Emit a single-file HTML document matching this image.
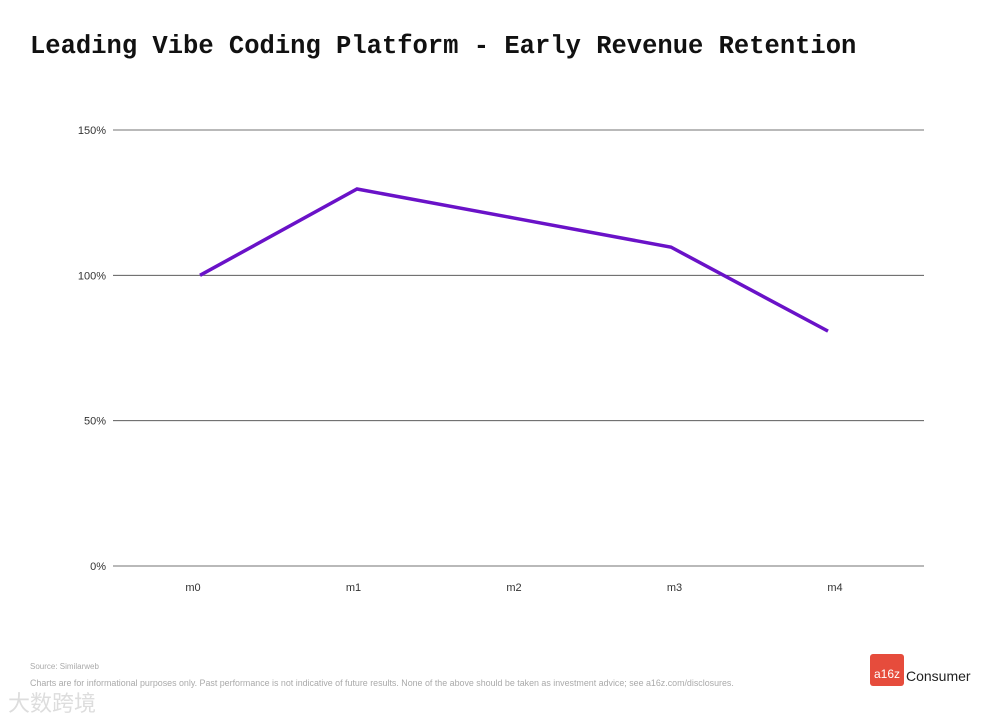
<!DOCTYPE html>
<html><head><meta charset="utf-8"><style>
body{margin:0;background:#fff;width:1000px;height:717px;overflow:hidden;position:relative;font-family:"Liberation Sans",sans-serif}
#title{position:absolute;left:30px;top:32px;font:bold 25.5px "Liberation Mono",monospace;color:#111;white-space:nowrap;letter-spacing:0px}
.foot{position:absolute;left:30px;font-size:8px;color:#aaa;white-space:nowrap}
#logo{position:absolute;left:870px;top:654px;width:34px;height:32px;background:#e64c3c;border-radius:3px;color:#fff;font-size:12px;line-height:40px;text-align:center}
#cons{position:absolute;left:906px;top:668px;font-size:14px;color:#222}
#wm{position:absolute;left:8px;top:686px;font:22px "Noto Sans CJK SC",sans-serif;color:#ddd}
</style></head><body>
<div id="title">Leading Vibe Coding Platform - Early Revenue Retention</div>
<svg id="chart" width="1000" height="717" style="position:absolute;left:0;top:0"></svg>
<div class="foot" style="top:662px">Source: Similarweb</div>
<div class="foot" style="top:678px;font-size:8.9px">Charts are for informational purposes only. Past performance is not indicative of future results. None of the above should be taken as investment advice; see a16z.com/disclosures.</div>
<div id="logo">a16z</div>
<div id="cons">Consumer</div>
<div id="wm">大数跨境</div>
<script>
const categories=["m0","m1","m2","m3","m4"];
const retention=[100,129.7,119.7,109.7,80.8];
const yTicks=[0,50,100,150];
const yTickLabels=["0%","50%","100%","150%"];
const svg=document.getElementById('chart');
const NS="http://www.w3.org/2000/svg";
const y=v=>566-v/150*436;
const x=i=>200+i*157;
const xl=i=>193+i*160.5;
function mk(t,a){const e=document.createElementNS(NS,t);for(const k in a)e.setAttribute(k,a[k]);svg.appendChild(e);return e;}
yTicks.forEach((v,i)=>{
 const l=mk('line',{x1:113,x2:924,y1:y(v),y2:y(v),stroke:'#444','stroke-width':0.8});
 
 
 const t=mk('text',{x:106,y:y(v)+4,'text-anchor':'end','font-size':11,fill:'#333','font-family':'Liberation Sans'});
 t.textContent=yTickLabels[i];
 
 
});
categories.forEach((c,i)=>{
 const t=mk('text',{x:xl(i),y:591,'text-anchor':'middle','font-size':11,fill:'#333','font-family':'Liberation Sans'});
 t.textContent=c;
 
 
});
const p=mk('polyline',{points:retention.map((v,i)=>x(i)+','+y(v)).join(' '),fill:'none',stroke:'#6a12c8','stroke-width':3.5,'stroke-linejoin':'miter'});


</script>
</body></html>
